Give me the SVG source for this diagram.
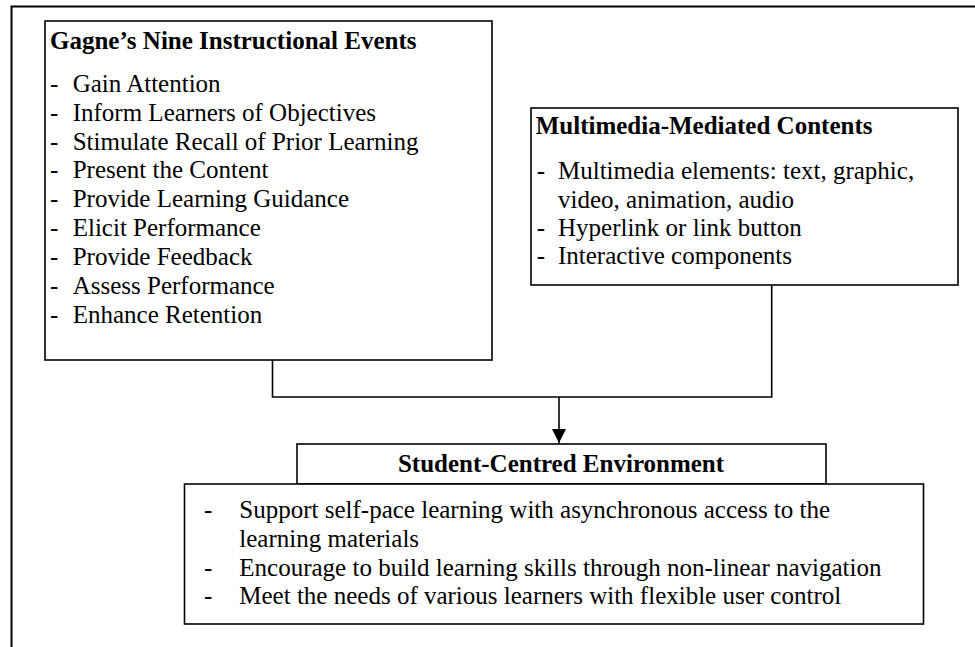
<svg xmlns="http://www.w3.org/2000/svg" width="975" height="647" viewBox="0 0 975 647">
<style>
.box{fill:#fff;stroke:#000;stroke-width:1.6}
.t{font-family:"Liberation Serif","Times New Roman",serif;font-size:25px;fill:#000}
.b{font-weight:bold}
.ln{stroke:#000;stroke-width:1.6;fill:none}
</style>
<defs>
<marker id="ah" markerWidth="14" markerHeight="14" refX="14" refY="7" orient="auto" markerUnits="userSpaceOnUse">
<path d="M0,0 L14,7 L0,14 Z" fill="#000"/>
</marker>
</defs>
<rect width="975" height="647" fill="#fff"/>
<g id="frame">
<path d="M11.5,700 V6.5 H990" fill="none" stroke="#000" stroke-width="2"/>
</g>
<g id="gagne">
<rect class="box" x="45" y="21" width="447" height="339"/>
<text class="t b" x="50" y="49">Gagne’s Nine Instructional Events</text>
<text class="t" x="50" y="91.7">-</text><text class="t" x="72.7" y="91.7">Gain Attention</text>
<text class="t" x="50" y="120.6">-</text><text class="t" x="72.7" y="120.6">Inform Learners of Objectives</text>
<text class="t" x="50" y="149.5">-</text><text class="t" x="72.7" y="149.5">Stimulate Recall of Prior Learning</text>
<text class="t" x="50" y="178.4">-</text><text class="t" x="72.7" y="178.4">Present the Content</text>
<text class="t" x="50" y="207.3">-</text><text class="t" x="72.7" y="207.3">Provide Learning Guidance</text>
<text class="t" x="50" y="236.2">-</text><text class="t" x="72.7" y="236.2">Elicit Performance</text>
<text class="t" x="50" y="265.1">-</text><text class="t" x="72.7" y="265.1">Provide Feedback</text>
<text class="t" x="50" y="294">-</text><text class="t" x="72.7" y="294">Assess Performance</text>
<text class="t" x="50" y="322.9">-</text><text class="t" x="72.7" y="322.9">Enhance Retention</text>
</g>
<g id="multimedia">
<rect class="box" x="531" y="108" width="427" height="177"/>
<text class="t b" x="535.7" y="134.3">Multimedia-Mediated Contents</text>
<text class="t" x="536.7" y="179">-</text><text class="t" x="558" y="179">Multimedia elements: text, graphic,</text>
<text class="t" x="558" y="207.5">video, animation, audio</text>
<text class="t" x="536.7" y="236">-</text><text class="t" x="558" y="236">Hyperlink or link button</text>
<text class="t" x="536.7" y="264.3">-</text><text class="t" x="558" y="264.3">Interactive components</text>
</g>
<g id="connectors">
<path class="ln" d="M272.5,360 V397 H771.7 V285"/>
<path class="ln" d="M559,397 V443" marker-end="url(#ah)"/>
</g>
<g id="student">
<rect class="box" x="297" y="444" width="529" height="40"/>
<text class="t b" x="561" y="471.5" text-anchor="middle">Student-Centred Environment</text>
<rect class="box" x="184.5" y="484" width="739" height="140"/>
<text class="t" x="204" y="518.3">-</text><text class="t" x="239.3" y="518.3">Support self-pace learning with asynchronous access to the</text>
<text class="t" x="239.3" y="547">learning materials</text>
<text class="t" x="204" y="575.5">-</text><text class="t" x="239.3" y="575.5">Encourage to build learning skills through non-linear navigation</text>
<text class="t" x="204" y="604">-</text><text class="t" x="239.3" y="604">Meet the needs of various learners with flexible user control</text>
</g>
</svg>
